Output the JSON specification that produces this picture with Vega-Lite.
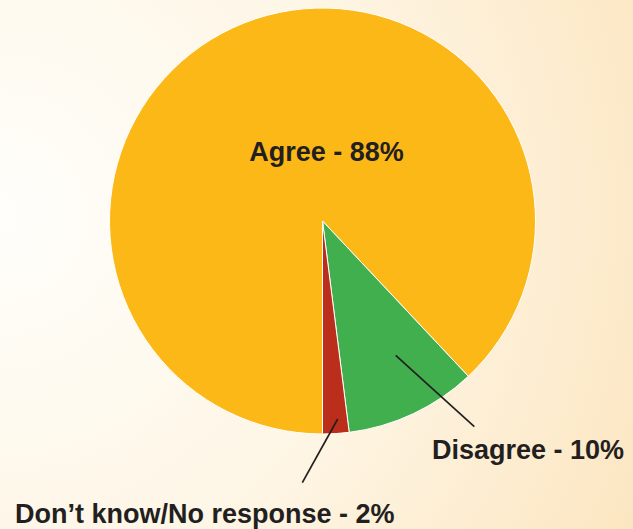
{
  "$schema": "https://vega.github.io/schema/vega-lite/v6.json",
  "width": 633,
  "height": 529,
  "padding": 0,
  "autosize": {"type": "fit", "contains": "padding"},
  "background": "#FDF2DE",
  "config": {
    "view": {
      "stroke": null,
      "fill": {
        "gradient": "radial",
        "x1": 0.0, "y1": 0.42, "r1": 0,
        "x2": 0.0, "y2": 0.42, "r2": 1.15,
        "stops": [
          {"offset": 0, "color": "#FFFEFB"},
          {"offset": 0.5, "color": "#FEF6E6"},
          {"offset": 1, "color": "#FCE5BF"}
        ]
      }
    },
    "text": {"font": "Liberation Sans", "fontWeight": "bold", "fontSize": 27, "color": "#231F20"}
  },
  "data": {
    "values": [
      {"response": "Agree", "share": 88, "label": "Agree - 88%", "order": 1},
      {"response": "Disagree", "share": 10, "label": "Disagree - 10%", "order": 2},
      {"response": "Don't know/No response", "share": 2, "label": "Don’t know/No response - 2%", "order": 3}
    ]
  },
  "layer": [
    {
      "mark": {"type": "arc", "outerRadius": 213, "stroke": "#FFFFFF", "strokeWidth": 1},
      "encoding": {
        "x": {"datum": 0, "type": "quantitative", "axis": null, "scale": {"domain": [-1.5141, 1.4577], "nice": false, "zero": false}},
        "y": {"datum": 0, "type": "quantitative", "axis": null, "scale": {"domain": [-1.4460, 1.0376], "nice": false, "zero": false}},
        "theta": {"field": "share", "type": "quantitative", "stack": true, "scale": {"range": [3.14159265, 9.42477796]}},
        "order": {"field": "order", "type": "quantitative", "sort": "ascending"},
        "color": {
          "field": "response", "type": "nominal", "legend": null,
          "scale": {"domain": ["Agree", "Disagree", "Don't know/No response"], "range": ["#FBB817", "#41AF4D", "#BA2E1B"]}
        }
      }
    },
    {
      "transform": [{"filter": "datum.response === 'Disagree'"}],
      "mark": {"type": "rule", "color": "#231F20", "strokeWidth": 1.7},
      "encoding": {
        "x": {"datum": 0.3437, "type": "quantitative"},
        "y": {"datum": -0.6305, "type": "quantitative"},
        "x2": {"datum": 0.7127},
        "y2": {"datum": -0.9657}
      }
    },
    {
      "transform": [{"filter": "datum.response === \"Don't know/No response\""}],
      "mark": {"type": "rule", "color": "#231F20", "strokeWidth": 1.7},
      "encoding": {
        "x": {"datum": 0.0714, "type": "quantitative"},
        "y": {"datum": -0.9296, "type": "quantitative"},
        "x2": {"datum": -0.0948},
        "y2": {"datum": -1.2286}
      }
    },
    {
      "transform": [{"filter": "datum.response === 'Agree'"}],
      "mark": {"type": "text", "align": "center", "baseline": "alphabetic"},
      "encoding": {
        "x": {"datum": 0.0188, "type": "quantitative"},
        "y": {"datum": 0.2831, "type": "quantitative"},
        "text": {"field": "label"}
      }
    },
    {
      "transform": [{"filter": "datum.response === 'Disagree'"}],
      "mark": {"type": "text", "align": "center", "baseline": "alphabetic"},
      "encoding": {
        "x": {"datum": 0.9648, "type": "quantitative"},
        "y": {"datum": -1.1174, "type": "quantitative"},
        "text": {"field": "label"}
      }
    },
    {
      "transform": [{"filter": "datum.response === \"Don't know/No response\""}],
      "mark": {"type": "text", "align": "center", "baseline": "alphabetic"},
      "encoding": {
        "x": {"datum": -0.5531, "type": "quantitative"},
        "y": {"datum": -1.4192, "type": "quantitative"},
        "text": {"field": "label"}
      }
    }
  ]
}
